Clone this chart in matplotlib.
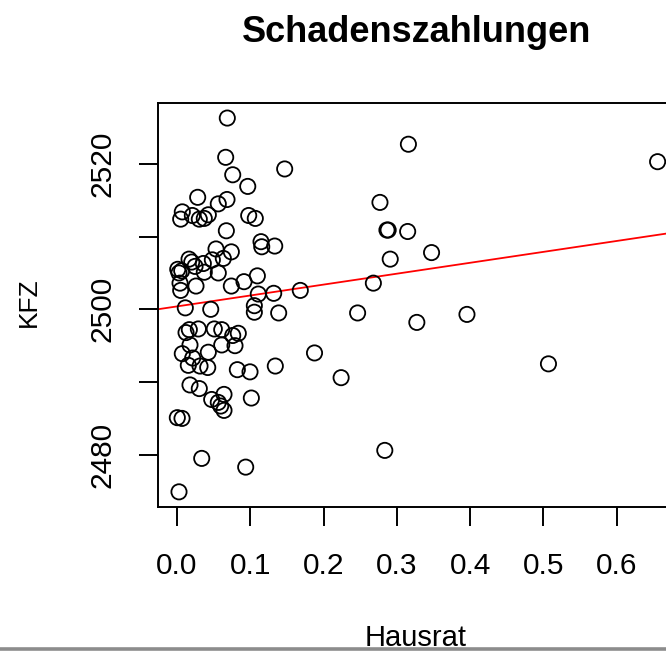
import numpy as np
import matplotlib.pyplot as plt
from matplotlib.lines import Line2D

plt.rcParams['font.family'] = ['Liberation Sans', 'DejaVu Sans']

# data
hausrat = [0.0686, 0.0664, 0.1469, 0.0760, 0.0965, 0.0282, 0.0682, 0.0563, 0.0072, 0.0050,
           0.0209, 0.0304, 0.0427, 0.0372, 0.0978, 0.1068, 0.0673, 0.1146, 0.1156, 0.1333,
           0.0532, 0.0741, 0.0164, 0.0201, 0.0010, 0.0027, 0.0064, 0.0359, 0.0482, 0.0632,
           0.0372, 0.0246, 0.0563, 0.0041, 0.0050, 0.0259, 0.0741, 0.0914, 0.1096, 0.1109,
           0.1319, 0.1682, 0.0113, 0.0460,
           0.1055, 0.1055, 0.1387, 0.0168, 0.0123, 0.0291, 0.0509, 0.0610, 0.0760, 0.0836,
           0.0177, 0.0610, 0.0791, 0.0072, 0.0427, 0.0214, 0.0154, 0.0314, 0.0419, 0.1876,
           0.0823, 0.0996, 0.1341, 0.0177, 0.0304, 0.0473, 0.0641, 0.0563, 0.0596, 0.0641,
           0.1014, 0.0004, 0.0068, 0.0337, 0.0937, 0.0027,
           0.3157, 0.6557, 0.2769, 0.2881, 0.2864, 0.3147, 0.3473, 0.2909, 0.2679, 0.2464,
           0.3272, 0.3956, 0.2239, 0.5068, 0.2835]
kfz = [2526.3, 2520.9, 2519.3, 2518.5, 2516.9, 2515.4, 2515.1, 2514.5, 2513.4, 2512.4,
       2512.9, 2512.4, 2513.0, 2512.5, 2512.9, 2512.5, 2510.8, 2509.3, 2508.6, 2508.7,
       2508.3, 2507.9, 2506.9, 2506.5, 2505.5, 2505.0, 2505.3, 2506.3, 2506.8, 2507.0,
       2505.1, 2505.9, 2505.0, 2503.6, 2502.6, 2503.2, 2503.2, 2503.8, 2504.6, 2502.1,
       2502.2, 2502.6, 2500.2, 2500.0,
       2500.5, 2499.6, 2499.5, 2497.2, 2496.8, 2497.3, 2497.3, 2497.2, 2496.4, 2496.7,
       2495.1, 2495.1, 2495.0, 2493.9, 2494.1, 2493.3, 2492.3, 2492.2, 2492.0, 2494.0,
       2491.7, 2491.4, 2492.2, 2489.6, 2489.1, 2487.6, 2488.3, 2487.2, 2486.7, 2486.1,
       2487.8, 2485.1, 2485.0, 2479.5, 2478.3, 2474.9,
       2522.7, 2520.3, 2514.7, 2510.9, 2510.9, 2510.7, 2507.8, 2506.9, 2503.6, 2499.5,
       2498.2, 2499.3, 2490.6, 2492.5, 2480.6]

intercept, slope = 2500.4, 15.0

xticks = [0.0, 0.1, 0.2, 0.3, 0.4, 0.5, 0.6]
xticklabels = ["0.0", "0.1", "0.2", "0.3", "0.4", "0.5", "0.6"]
yticks = [2480, 2490, 2500, 2510, 2520]
yticklabels = ["2480", "", "2500", "", "2520"]

W, H = 666, 651
fig = plt.figure(figsize=(W / 100, H / 100), dpi=100)
# axes box runs slightly past the right edge, like the cropped original
ax = fig.add_axes([158.1 / W, (H - 506.8) / H, 518.7 / W, 403.7 / H])

x = np.array(hausrat)
y = np.array(kfz)
ax.scatter(x, y, s=120, facecolors='none', edgecolors='black', linewidths=1.3, zorder=3)
ax.axline((0, intercept), slope=slope, color='red', lw=1.3, zorder=2)

# R style 4% padding
rx = x.max() - x.min()
ry = y.max() - y.min()
ax.set_xlim(x.min() - 0.04 * rx, x.max() + 0.04 * rx)
ax.set_ylim(y.min() - 0.04 * ry, y.max() + 0.04 * ry)

ax.set_xticks(xticks)
ax.set_xticklabels(xticklabels)
ax.set_yticks(yticks)
ax.set_yticklabels(yticklabels, rotation=90, va='center')
ax.tick_params(axis='both', length=13.7, width=1.4, labelsize=21.5, color='black')
ax.tick_params(axis='x', pad=18.5)
ax.tick_params(axis='y', pad=16.5)
for sp in ax.spines.values():
    sp.set_linewidth(1.4)

fig.text(417 / W, (H - 41.7) / H, "Schadenszahlungen", fontsize=26, fontweight='bold',
         ha='center', va='baseline')
fig.text(29 / W, (H - 302) / H, "KFZ", fontsize=19, rotation=90, ha='center', va='center')
fig.text(416 / W, 5.5 / H, "Hausrat", fontsize=21, ha='center', va='baseline')

# grey border at the bottom of the screenshot
fig.add_artist(Line2D([0, 1], [1.8 / H, 1.8 / H], transform=fig.transFigure,
                      color='#8c8c8c', lw=2.6, zorder=10))

fig.savefig("out.png", dpi=100)
